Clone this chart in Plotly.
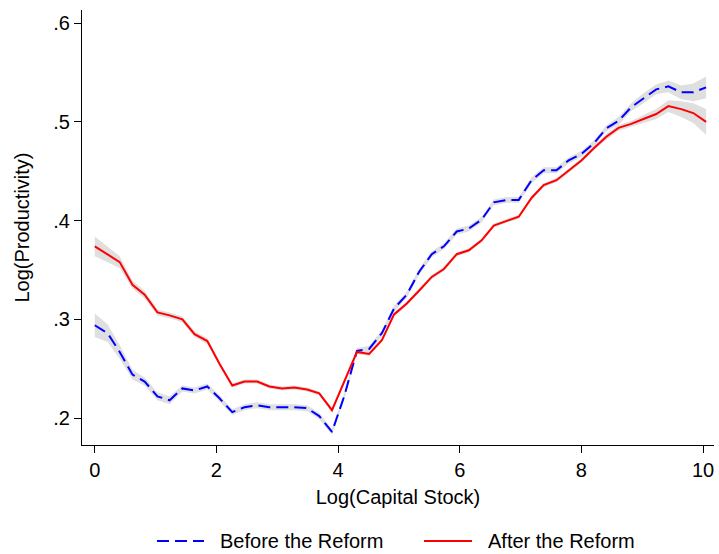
import plotly.graph_objects as go

log_capital = [0.00, 0.21, 0.41, 0.62, 0.82, 1.03, 1.23, 1.44, 1.64, 1.85,
               2.05, 2.26, 2.46, 2.67, 2.87, 3.08, 3.28, 3.49, 3.69, 3.90,
               4.10, 4.31, 4.51, 4.72, 4.92, 5.13, 5.33, 5.54, 5.74, 5.95,
               6.15, 6.36, 6.56, 6.77, 6.97, 7.18, 7.38, 7.59, 7.79, 8.00,
               8.20, 8.41, 8.61, 8.82, 9.02, 9.23, 9.43, 9.64, 9.84, 10.05]

before_reform = [0.294, 0.286, 0.267, 0.244, 0.237, 0.222, 0.218, 0.230, 0.228, 0.232,
                 0.220, 0.206, 0.211, 0.213, 0.211, 0.211, 0.211, 0.210, 0.202, 0.186,
                 0.222, 0.268, 0.270, 0.286, 0.311, 0.325, 0.348, 0.366, 0.374, 0.389,
                 0.392, 0.401, 0.4185, 0.421, 0.421, 0.441, 0.451, 0.451, 0.461, 0.4675,
                 0.478, 0.4935, 0.501, 0.515, 0.524, 0.533, 0.536, 0.530, 0.530, 0.535]

after_reform = [0.374, 0.366, 0.358, 0.335, 0.325, 0.307, 0.304, 0.300, 0.285, 0.278,
                0.255, 0.233, 0.237, 0.237, 0.232, 0.230, 0.231, 0.229, 0.225, 0.208,
                0.237, 0.267, 0.265, 0.279, 0.305, 0.316, 0.329, 0.343, 0.351, 0.366,
                0.370, 0.380, 0.395, 0.400, 0.404, 0.423, 0.436, 0.441, 0.451, 0.461,
                0.473, 0.485, 0.494, 0.498, 0.503, 0.508, 0.516, 0.513, 0.509, 0.500]

# half-width of the grey confidence bands
before_ci = [0.012, 0.009, 0.007, 0.005, 0.004, 0.004, 0.004, 0.003, 0.003, 0.003,
             0.003, 0.003, 0.003, 0.003, 0.003, 0.003, 0.003, 0.003, 0.003, 0.003,
             0.003, 0.003, 0.003, 0.003, 0.003, 0.003, 0.003, 0.003, 0.003, 0.003,
             0.003, 0.003, 0.003, 0.003, 0.003, 0.003, 0.003, 0.003, 0.003, 0.003,
             0.003, 0.003, 0.004, 0.004, 0.005, 0.005, 0.006, 0.007, 0.009, 0.011]

after_ci = [0.010, 0.008, 0.006, 0.004, 0.004, 0.003, 0.003, 0.003, 0.003, 0.003,
            0.002, 0.002, 0.002, 0.002, 0.002, 0.002, 0.002, 0.002, 0.002, 0.002,
            0.002, 0.002, 0.002, 0.002, 0.002, 0.002, 0.002, 0.002, 0.002, 0.002,
            0.002, 0.002, 0.002, 0.002, 0.002, 0.002, 0.002, 0.002, 0.002, 0.002,
            0.002, 0.003, 0.003, 0.003, 0.004, 0.005, 0.006, 0.008, 0.010, 0.013]

x_ticks = [0, 2, 4, 6, 8, 10]
y_ticks = [0.2, 0.3, 0.4, 0.5, 0.6]
y_tick_labels = [".2", ".3", ".4", ".5", ".6"]
series_names = ["Before the Reform", "After the Reform"]

band_color = "rgba(212,212,212,0.75)"
BLUE = "#0000ff"
RED = "#ff0000"
DASH = "12px,6px"
FONT = "Liberation Sans, Arial, Helvetica, sans-serif"
FS = 20

W, H = 719, 554
ML, MR, MT, MB = 82, 5, 10, 109
PW, PH = W - ML - MR, H - MT - MB


def px_x(p):
    return (p - ML) / PW


def px_y(p):
    return (H - MB - p) / PH


fig = go.Figure()

for vals, ci in [(after_reform, after_ci), (before_reform, before_ci)]:
    upper = [v + c for v, c in zip(vals, ci)]
    lower = [v - c for v, c in zip(vals, ci)]
    fig.add_trace(go.Scatter(x=log_capital + log_capital[::-1], y=upper + lower[::-1],
                             fill="toself", fillcolor=band_color, mode="lines",
                             line=dict(width=0, color=band_color),
                             showlegend=False, hoverinfo="skip"))

fig.add_trace(go.Scatter(x=log_capital, y=before_reform, mode="lines",
                         name=series_names[0], showlegend=False,
                         line=dict(color=BLUE, width=2, dash=DASH)))
fig.add_trace(go.Scatter(x=log_capital, y=after_reform, mode="lines",
                         name=series_names[1], showlegend=False,
                         line=dict(color=RED, width=2)))

# legend (below the plot), drawn in paper coordinates
leg_y = px_y(541)
legend_items = [(157, 204, 218, BLUE, DASH, series_names[0]),
                (424, 472, 486, RED, "solid", series_names[1])]
shapes = []
annotations = []
for x0, x1, xt, col, dash, name in legend_items:
    shapes.append(dict(type="line", xref="paper", yref="paper",
                       x0=px_x(x0), x1=px_x(x1), y0=leg_y, y1=leg_y,
                       line=dict(color=col, width=2, dash=dash)))
    annotations.append(dict(xref="paper", yref="paper", x=px_x(xt), y=leg_y,
                            xanchor="left", yanchor="middle", showarrow=False,
                            text=name, font=dict(size=FS, color="black", family=FONT)))

fig.update_layout(
    width=W, height=H,
    margin=dict(l=ML, r=MR, t=MT, b=MB, autoexpand=False),
    paper_bgcolor="white", plot_bgcolor="white",
    font=dict(family=FONT, size=FS, color="black"),
    showlegend=False,
    shapes=shapes, annotations=annotations,
    xaxis=dict(range=[-0.21, 10.18], tickvals=x_ticks, ticks="outside", ticklen=7,
               tickcolor="black", showline=True, linecolor="black", linewidth=1,
               showgrid=False, zeroline=False, tickfont=dict(size=FS), automargin=False,
               title=dict(text="Log(Capital Stock)", font=dict(size=FS), standoff=9)),
    yaxis=dict(range=[0.1727, 0.6134], tickvals=y_ticks, ticktext=y_tick_labels,
               ticks="outside", ticklen=7, tickcolor="black", showline=True,
               linecolor="black", linewidth=1, showgrid=False, zeroline=False,
               tickfont=dict(size=FS), automargin=False,
               title=dict(text="Log(Productivity)", font=dict(size=FS), standoff=18)),
)

fig.write_html("out.html")
